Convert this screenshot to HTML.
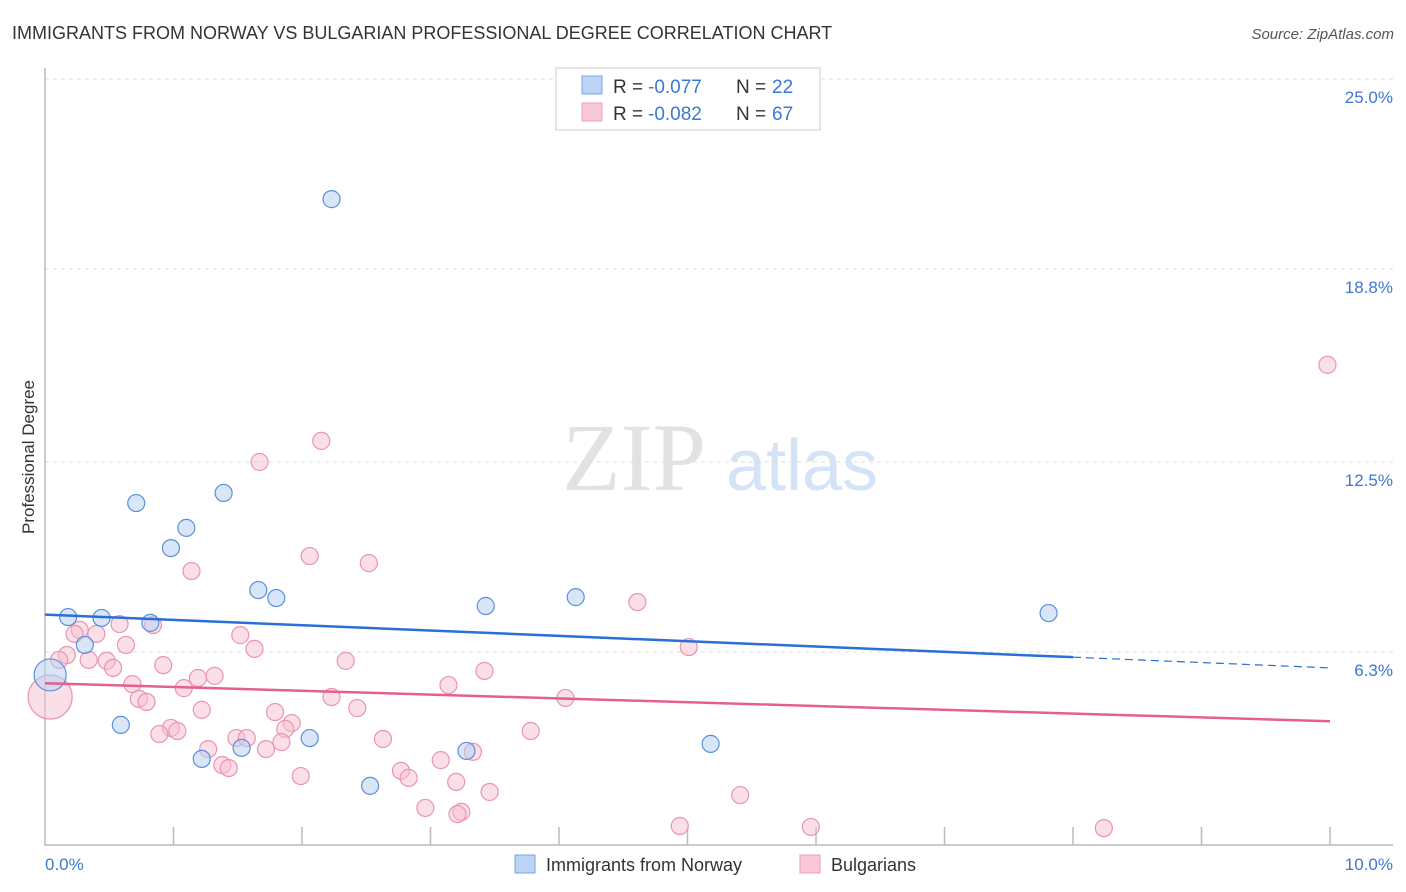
<!DOCTYPE html>
<html><head><meta charset="utf-8"><style>
body{margin:0;background:#fff;font-family:"Liberation Sans",sans-serif}
#wrap{position:relative;width:1406px;height:892px;overflow:hidden}
</style></head><body>
<div id="wrap">
<svg id="svg" width="1406" height="892" xmlns="http://www.w3.org/2000/svg">
<text x="12" y="39" font-size="18" fill="#333">IMMIGRANTS FROM NORWAY VS BULGARIAN PROFESSIONAL DEGREE CORRELATION CHART</text>
<text x="1394" y="39" font-size="15" fill="#555" font-style="italic" text-anchor="end">Source: ZipAtlas.com</text>
<text x="634" y="490" font-size="96" fill="#e2e2e2" font-family="Liberation Serif,serif" text-anchor="middle">ZIP</text>
<text x="802" y="490" font-size="72" fill="#d4e3f5" text-anchor="middle">atlas</text>
<text transform="translate(34,457) rotate(-90)" font-size="17" fill="#333" text-anchor="middle">Professional Degree</text>
<g id="grid"></g><g id="pts"></g><g id="lines"></g>
<rect x="556" y="68" width="264" height="62" fill="#fff" stroke="#ccc"/>
<rect x="582" y="76" width="20" height="18" fill="#bcd4f5" stroke="#7aa5e0"/>
<g font-size="19">
<text x="613" y="93" fill="#333">R = </text><text x="648" y="93" fill="#3b78d4">-0.077</text>
<text x="736" y="93" fill="#333">N = </text><text x="772" y="93" fill="#3b78d4">22</text></g>
<rect x="582" y="103" width="20" height="18" fill="#f9c8d6" stroke="#e8a0b6"/>
<g font-size="19">
<text x="613" y="120" fill="#333">R = </text><text x="648" y="120" fill="#3b78d4">-0.082</text>
<text x="736" y="120" fill="#333">N = </text><text x="772" y="120" fill="#3b78d4">67</text></g>
<text x="45" y="870" font-size="17" fill="#3b78d4">0.0%</text>
<text x="1393" y="870" font-size="17" fill="#3b78d4" text-anchor="end">10.0%</text>
<rect x="515" y="855" width="20" height="18" fill="#bcd4f5" stroke="#7aa5e0"/>
<text x="546" y="871" font-size="18" fill="#333">Immigrants from Norway</text>
<rect x="800" y="855" width="20" height="18" fill="#f9c8d6" stroke="#e8a0b6"/>
<text x="831" y="871" font-size="18" fill="#333">Bulgarians</text>
</svg></div>
<script>
const yTicks=[25.0,18.8,12.5,6.3];
const yTickLabels=["25.0%","18.8%","12.5%","6.3%"];
const norwayX=[0.18,0.44,0.31,0.82,0.71,0.98,1.10,1.39,1.66,1.80,0.59,1.22,1.53,2.06,2.23,2.53,3.43,3.28,4.13,5.18,7.81,0.04];
const norwayY=[7.44,7.41,6.53,7.25,11.16,9.69,10.35,11.49,8.32,8.06,3.92,2.81,3.17,3.49,21.08,1.93,7.80,3.07,8.09,3.30,7.57,5.55];
const bulgX=[9.98,2.15,1.67,2.06,2.52,1.14,4.61,0.58,0.84,0.27,0.40,0.23,1.52,0.63,1.63,5.01,0.17,0.11,0.34,0.48,2.34,0.53,0.92,3.42,1.32,1.19,0.68,3.14,1.08,2.23,4.05,0.73,0.79,2.43,1.22,1.79,1.92,0.98,1.03,1.87,3.78,0.89,1.49,1.57,2.63,1.84,1.27,1.72,3.33,3.08,1.38,1.43,2.77,1.99,2.83,3.20,3.46,5.41,2.96,3.24,3.21,4.94,5.96,8.24,0.04];
const bulgY=[15.67,13.19,12.50,9.43,9.20,8.94,7.93,7.21,7.18,7.02,6.89,6.89,6.85,6.53,6.40,6.46,6.20,6.04,6.04,6.01,6.01,5.78,5.87,5.68,5.52,5.45,5.25,5.22,5.12,4.83,4.80,4.77,4.67,4.47,4.41,4.34,3.98,3.82,3.72,3.79,3.72,3.62,3.49,3.49,3.46,3.36,3.13,3.13,3.04,2.77,2.61,2.51,2.42,2.25,2.19,2.06,1.73,1.63,1.21,1.08,1.01,0.62,0.59,0.55,4.83];
const norwayTrend=[7.52,6.13,5.78]; // at x=0, 8, 10
const bulgTrend=[5.28,4.04];         // at x=0, 10
const xs=v=>45+v*128.5, ys=v=>845-v*766/25;
const NS="http://www.w3.org/2000/svg";
function mk(t,a,p){const e=document.createElementNS(NS,t);for(const k in a)e.setAttribute(k,a[k]);p.appendChild(e);return e;}
const grid=document.getElementById('grid');
yTicks.forEach((t,i)=>{
 const l=mk('line',{x1:45,x2:1393,y1:ys(t),y2:ys(t),stroke:'#ddd','stroke-dasharray':'4,4'},grid);
 
 
 const tx=mk('text',{x:1393,y:ys(t)+24,'font-size':17,fill:'#3b78d4','text-anchor':'end'},grid);
 tx.textContent=yTickLabels[i];
 
 
});
const ax=mk('path',{d:'M45,68V845H1393',fill:'none',stroke:'#bbb','stroke-width':1.5},grid);


for(let k=1;k<=10;k++){
 const tk=mk('line',{x1:xs(k),x2:xs(k),y1:827,y2:845,stroke:'#bbb','stroke-width':1.5},grid);
 
 
}
const pts=document.getElementById('pts');
bulgX.forEach((x,i)=>{
 const big=i===bulgX.length-1;
 const c=mk('circle',{cx:xs(x),cy:ys(bulgY[i]),r:big?22:8.5,fill:'#f7bfd0','fill-opacity':0.5,stroke:'#e994b0','stroke-width':1.2},pts);
 
 
});
norwayX.forEach((x,i)=>{
 const big=i===norwayX.length-1;
 const c=mk('circle',{cx:xs(x),cy:ys(norwayY[i]),r:big?16:8.5,fill:'#b8d1f3','fill-opacity':0.55,stroke:'#5b8fdb','stroke-width':1.2},pts);
 
 
});
const lines=document.getElementById('lines');
let l1=mk('line',{x1:xs(0),y1:ys(norwayTrend[0]),x2:xs(8),y2:ys(norwayTrend[1]),stroke:'#2a6fd6','stroke-width':2.5},lines);


let l2=mk('line',{x1:xs(8),y1:ys(norwayTrend[1]),x2:xs(10),y2:ys(norwayTrend[2]),stroke:'#2a6fd6','stroke-width':1.2,'stroke-dasharray':'8,5'},lines);


let l3=mk('line',{x1:xs(0),y1:ys(bulgTrend[0]),x2:xs(10),y2:ys(bulgTrend[1]),stroke:'#e4608c','stroke-width':2.5},lines);


</script>
</body></html>
